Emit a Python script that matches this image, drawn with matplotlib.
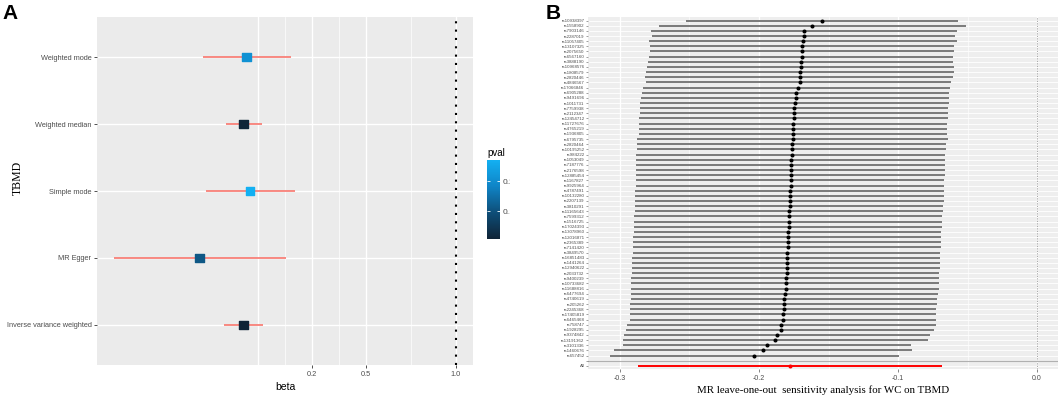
import matplotlib
matplotlib.use('Agg')
import matplotlib.pyplot as plt
import numpy as np
from matplotlib.colors import LinearSegmentedColormap, Normalize
from matplotlib.transforms import Bbox, TransformedBbox

plt.rcParams['font.family'] = ['Liberation Sans', 'DejaVu Sans']

# panel A: MR methods
methods = ['Inverse variance weighted', 'MR Egger', 'Simple mode', 'Weighted median', 'Weighted mode']
b_est = [-0.181, -0.424, -0.144, -0.180, -0.163]
b_lo = [-0.290, -0.898, -0.390, -0.276, -0.404]
b_hi = [-0.070, 0.057, 0.104, -0.080, 0.083]
pvals = [0.008, 0.11, 0.271, 0.012, 0.21]

# panel B: leave-one-out (top to bottom)
snps = ['rs10938397', 'rs1558902', 'rs7903146', 'rs2287019', 'rs11057405', 'rs13107325',
        'rs2075650', 'rs6567160', 'rs3888190', 'rs10968576', 'rs1808579', 'rs2820446',
        'rs4846567', 'rs17066846', 'rs6905288', 'rs9491696', 'rs1011731', 'rs7759938',
        'rs2112347', 'rs12454712', 'rs11727676', 'rs4765219', 'rs1936805', 'rs6795735',
        'rs2820464', 'rs10195252', 'rs984222', 'rs1053049', 'rs7187776', 'rs2176598',
        'rs12885454', 'rs1167827', 'rs9925964', 'rs4787491', 'rs10132280', 'rs2207139',
        'rs3810291', 'rs11165643', 'rs7599312', 'rs1516725', 'rs17024393', 'rs13078960',
        'rs12016871', 'rs2365389', 'rs7141420', 'rs3849570', 'rs16851483', 'rs1441264',
        'rs12940622', 'rs2033732', 'rs9400239', 'rs10733682', 'rs11688816', 'rs6477694',
        'rs4740619', 'rs205262', 'rs2245368', 'rs17405819', 'rs6465468', 'rs758747',
        'rs1928295', 'rs9374842', 'rs13191362', 'rs3101336', 'rs1460676', 'rs657452']
loo_b = [-0.1545, -0.1619, -0.1674, -0.1679, -0.1683, -0.1688, -0.1691, -0.1693, -0.1695, -0.1698,
         -0.1703, -0.1705, -0.1707, -0.1722, -0.1732, -0.1736, -0.1741, -0.1746, -0.1748, -0.1750,
         -0.1753, -0.1755, -0.1758, -0.1758, -0.1760, -0.1763, -0.1765, -0.1768, -0.1768, -0.1770,
         -0.1770, -0.1772, -0.1772, -0.1775, -0.1777, -0.1777, -0.1779, -0.1782, -0.1784, -0.1784,
         -0.1786, -0.1789, -0.1789, -0.1791, -0.1793, -0.1796, -0.1798, -0.1800, -0.1801, -0.1802,
         -0.1804, -0.1806, -0.1808, -0.1811, -0.1818, -0.1820, -0.1822, -0.1825, -0.1825, -0.1842,
         -0.1844, -0.1868, -0.1885, -0.1940, -0.1969, -0.2034]
loo_lo = [-0.2527, -0.2719, -0.2777, -0.2768, -0.2791, -0.2786, -0.2786, -0.2794, -0.2801, -0.2808,
          -0.2813, -0.2822, -0.2813, -0.2832, -0.2842, -0.2849, -0.2854, -0.2854, -0.2856, -0.2861,
          -0.2863, -0.2866, -0.2866, -0.2876, -0.2876, -0.2880, -0.2883, -0.2883, -0.2883, -0.2885,
          -0.2885, -0.2885, -0.2887, -0.2890, -0.2890, -0.2895, -0.2895, -0.2895, -0.2897, -0.2899,
          -0.2902, -0.2902, -0.2904, -0.2904, -0.2906, -0.2909, -0.2911, -0.2911, -0.2916, -0.2916,
          -0.2919, -0.2921, -0.2921, -0.2923, -0.2923, -0.2926, -0.2928, -0.2928, -0.2930, -0.2952,
          -0.2959, -0.2971, -0.2978, -0.2976, -0.3041, -0.3072]
loo_hi = [-0.0566, -0.0513, -0.0578, -0.0588, -0.0578, -0.0595, -0.0597, -0.0602, -0.0602, -0.0600,
          -0.0600, -0.0602, -0.0619, -0.0626, -0.0633, -0.0633, -0.0635, -0.0638, -0.0643, -0.0643,
          -0.0645, -0.0645, -0.0647, -0.0643, -0.0655, -0.0657, -0.0660, -0.0662, -0.0662, -0.0662,
          -0.0664, -0.0667, -0.0667, -0.0669, -0.0669, -0.0671, -0.0674, -0.0679, -0.0681, -0.0681,
          -0.0683, -0.0688, -0.0691, -0.0691, -0.0693, -0.0695, -0.0695, -0.0698, -0.0698, -0.0703,
          -0.0703, -0.0705, -0.0705, -0.0715, -0.0717, -0.0722, -0.0724, -0.0727, -0.0727, -0.0729,
          -0.0739, -0.0768, -0.0786, -0.0906, -0.0899, -0.0993]
all_b, all_lo, all_hi = -0.1777, -0.2873, -0.0681

grey_txt = '#4D4D4D'
fig = plt.figure(figsize=(10.59, 3.99), dpi=100)

# ---------------- panel A ----------------
ax = fig.add_axes([0.0916, 0.0852, 0.355, 0.8722])
ax.set_facecolor('#EBEBEB')
for s in ax.spines.values():
    s.set_visible(False)
cmap = LinearSegmentedColormap.from_list('gg', ['#0F2336', '#0E4E78', '#0F84C6', '#13B0F2'])
norm = Normalize(vmin=min(pvals), vmax=max(pvals))
ypos = np.arange(len(methods))
for g in [-0.1, 0.2, 0.5, 1.0]:
    ax.axvline(g, color='white', lw=1.0, zorder=0)
for g in [0.05, 0.35, 0.75]:
    ax.axvline(g, color='white', lw=0.5, zorder=0)
for yy in ypos:
    ax.axhline(yy, color='white', lw=1.0, zorder=0)
ax.hlines(ypos, b_lo, b_hi, color='#F8766D', lw=1.2, zorder=2)
ax.scatter(b_est, ypos, c=pvals, cmap=cmap, norm=norm, marker='s', s=38, zorder=3)
ax.axvline(1.0, color='black', lw=1.5, ls=(0, (1, 3)), zorder=1)
ax.set_xlim(-0.994, 1.094)
ax.set_ylim(-0.6, len(methods) - 0.4)
ax.set_xticks([0.2, 0.5, 1.0])
ax.set_xticklabels(['0.2', '0.5', '1.0'])
ax.set_yticks(ypos)
ax.set_yticklabels(methods)
ax.tick_params(axis='both', labelsize=5.3, labelcolor=grey_txt, color='#333333', length=2.5, width=0.6, pad=1.5)
ax.set_xlabel('beta', fontsize=7.5, labelpad=3)
fig.text(0.017, 0.554, 'TBMD', rotation=90, fontsize=8.5, family='Liberation Serif',
         ha='center', va='center')
fig.text(0.002, 0.965, 'A', fontsize=15, fontweight='bold', va='center')

# colour bar
cax = fig.add_axes([0.4599, 0.401, 0.0123, 0.198])
cb = fig.colorbar(plt.cm.ScalarMappable(norm=norm, cmap=cmap), cax=cax)
cb.outline.set_visible(False)
cb.set_ticks([0.1, 0.2])
cb.set_ticklabels(['0.1', '0.2'])
cax.yaxis.set_ticks_position('both')
cax.tick_params(direction='in', color='white', length=2.5, width=0.6, labelsize=6,
                labelcolor=grey_txt, labelleft=False, labelright=True, pad=2)
cax.set_title('pval', fontsize=7, loc='left', pad=3)
clip = TransformedBbox(Bbox([[0.40, 0.3], [0.482, 0.7]]), fig.transFigure)
for t in cax.get_yticklabels():
    t.set_clip_box(clip)
    t.set_clip_on(True)

# ---------------- panel B ----------------
bx = fig.add_axes([0.5552, 0.0752, 0.4438, 0.881])
bx.set_facecolor('#EEEEEE')
for s in bx.spines.values():
    s.set_visible(False)
n = len(snps)
yb = np.arange(n)
y_all = n + 1
for g in [-0.3, -0.2, -0.1, 0.0]:
    bx.axvline(g, color='white', lw=0.9, zorder=0)
for g in [-0.25, -0.15, -0.05]:
    bx.axvline(g, color='white', lw=0.45, zorder=0)
for yy in list(yb) + [n, y_all]:
    bx.axhline(yy, color='white', lw=0.6, zorder=0)
bx.axvline(0, color='#9A9A9A', lw=0.6, ls=(0, (1.5, 1.5)), zorder=1)
bx.axhline(n, color='#B0B0B0', lw=0.8, zorder=1)
bx.hlines(yb, loo_lo, loo_hi, color='#7A7A7A', lw=1.4, zorder=2)
bx.plot(loo_b, yb, 'o', color='black', ms=1.9, zorder=3)
bx.hlines([y_all], [all_lo], [all_hi], color='#FF0000', lw=1.4, zorder=2)
bx.plot([all_b], [y_all], 'o', color='#FF0000', ms=1.9, zorder=3)
bx.set_xlim(-0.323, 0.015)
bx.set_ylim(y_all + 0.6, -0.6)
bx.set_xticks([-0.3, -0.2, -0.1, 0.0])
bx.set_xticklabels(['-0.3', '-0.2', '-0.1', '0.0'])
bx.set_yticks(list(yb) + [n, y_all])
bx.set_yticklabels(snps + ['', 'All'])
bx.tick_params(axis='y', labelsize=3.2, labelcolor=grey_txt, color='#555555', length=1.5, width=0.4, pad=1)
bx.tick_params(axis='x', labelsize=5, labelcolor=grey_txt, color='#555555', length=2, width=0.5, pad=2)
bx.set_xlabel('MR leave-one-out  sensitivity analysis for WC on TBMD', fontsize=7.8,
              family='Liberation Serif', labelpad=2.5)
fig.text(0.515, 0.965, 'B', fontsize=15, fontweight='bold', va='center')

fig.savefig('out.png', dpi=100)
